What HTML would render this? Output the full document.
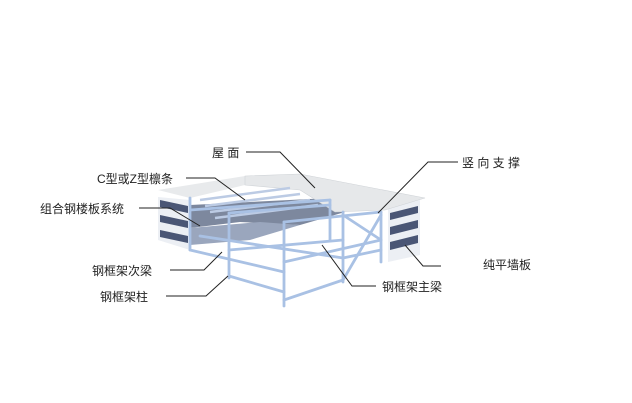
<!DOCTYPE html>
<html><head><meta charset="utf-8"><style>
html,body{margin:0;padding:0;background:#fff;width:632px;height:403px;overflow:hidden}
svg{display:block}
text{font-family:"Liberation Sans","Noto Sans CJK SC",sans-serif;font-size:12px;fill:#222}
</style></head><body>
<svg width="632" height="403" viewBox="0 0 632 403">
<!-- left wall -->
<polygon points="158,197 190,200 190,250 158,240" fill="#eceff4"/>
<polygon points="160,200 188,206 188,213 160,207" fill="#4a5675"/>
<polygon points="160,215 188,221 188,228 160,222" fill="#4a5675"/>
<polygon points="160,230 188,236 188,243 160,237" fill="#4a5675"/>
<!-- right wall -->
<polygon points="388,208 420,200 420,255 388,262" fill="#eceff4"/>
<polygon points="390,213 418,206 418,213 390,220" fill="#4a5675"/>
<polygon points="390,227 418,220 418,228 390,235" fill="#4a5675"/>
<polygon points="390,242 418,235 418,243 390,250" fill="#4a5675"/>
<!-- dark interior -->
<polygon points="190,205 330,198 345,212 300,225 240,222 190,228" fill="#5d6a86" opacity="0.8"/>
<polygon points="190,228 260,222 300,225 250,240 190,245" fill="#9aa6bd"/>
<!-- roof -->
<polygon points="158,190 245,176 245,185 190,198" fill="#e8eaec"/>
<polygon points="245,176 300,174 425,198 385,210 335,212 300,190 245,185" fill="#e6e8ea" stroke="#cfd3d7" stroke-width="0.6"/>
<!-- purlins -->
<g stroke="#bccbe4" stroke-width="2.5">
<line x1="200" y1="200" x2="290" y2="188"/>
<line x1="205" y1="206" x2="300" y2="194"/>
<line x1="210" y1="212" x2="310" y2="200"/>
<line x1="215" y1="218" x2="318" y2="205"/>
</g>
<!-- frame -->
<g stroke="#a9c1e4" stroke-width="2.8" fill="none" stroke-linecap="round">
<line x1="190" y1="198" x2="190" y2="250"/>
<line x1="229" y1="213" x2="229" y2="278"/>
<line x1="284" y1="222" x2="284" y2="306"/>
<line x1="343" y1="212" x2="343" y2="282"/>
<line x1="381" y1="212" x2="381" y2="262"/>
<line x1="330" y1="200" x2="330" y2="240"/>
<line x1="190" y1="210" x2="330" y2="200"/>
<line x1="229" y1="213" x2="330" y2="205"/>
<line x1="190" y1="250" x2="284" y2="272"/>
<line x1="284" y1="222" x2="381" y2="212"/>
<line x1="229" y1="250" x2="343" y2="240"/>
<line x1="284" y1="262" x2="381" y2="240"/>
<line x1="229" y1="276" x2="284" y2="292"/>
<line x1="284" y1="300" x2="343" y2="280"/>
<line x1="200" y1="236" x2="343" y2="258"/>
<line x1="343" y1="258" x2="381" y2="250"/>
<line x1="343" y1="215" x2="381" y2="240"/>
<line x1="343" y1="280" x2="381" y2="215"/>
</g>
<!-- leaders -->
<g stroke="#222" stroke-width="1" fill="none">
<polyline points="246,152 280,152 315,188"/>
<polyline points="186,178 215,178 245,200"/>
<polyline points="139,208 170,208 200,226"/>
<polyline points="170,270 204,270 222,252"/>
<polyline points="166,296 206,296 228,276"/>
<polyline points="458,162 428,162 378,213"/>
<polyline points="405,245 423,266 441,266"/>
<polyline points="322,245 352,286 376,286"/>
</g>
<text x="212" y="157">屋 面</text>
<text x="97" y="183">C型或Z型檩条</text>
<text x="40" y="213">组合钢楼板系统</text>
<text x="92" y="275">钢框架次梁</text>
<text x="100" y="301">钢框架柱</text>
<text x="462" y="167">竖 向 支 撑</text>
<text x="483" y="269">纯平墙板</text>
<text x="382" y="291">钢框架主梁</text>
</svg>
</body></html>
